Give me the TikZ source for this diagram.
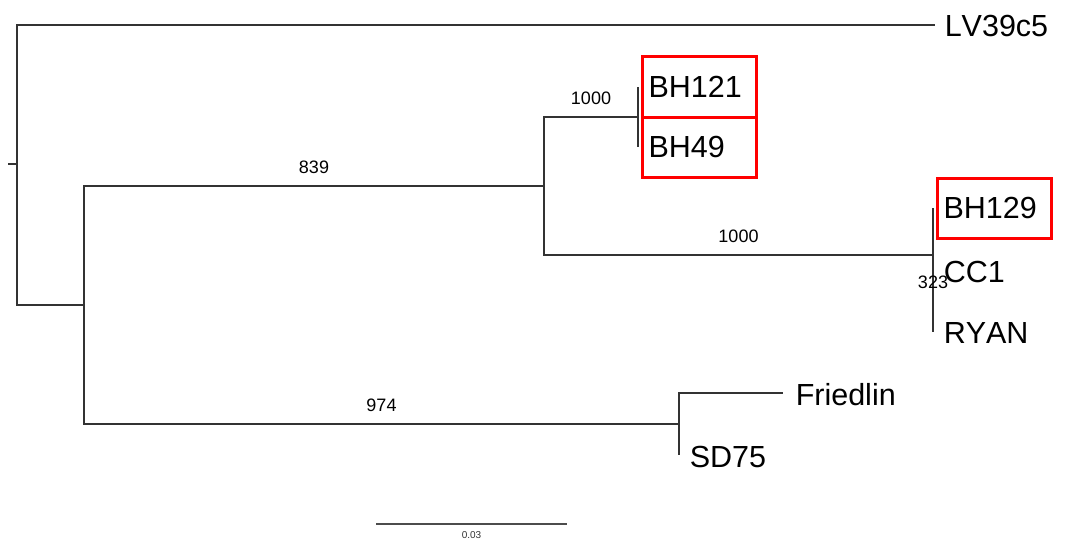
\documentclass[tikz,border=0pt]{standalone}
\usepackage{fontspec}
\setmainfont[Kerning=Off]{Liberation Sans}
\usetikzlibrary{positioning}
\tikzset{
  tree/.style={x=1pt,y=-1pt,line width=1.5pt,draw=black!80},
  tip/.style={font=\fontsize{30.5}{36}\selectfont,inner sep=0pt,yshift=-1.5pt},
  hl/.style={tip,draw=red,line width=3pt,text width=102pt,inner xsep=6pt,
    minimum height=60pt,align=left,yshift=1.5pt},
  boot/.style={font=\fontsize{18}{22}\selectfont,inner sep=0pt,pos=.75,above=12pt},
}

\begin{document}
\begin{tikzpicture}[tree]
  \useasboundingbox (0,0) rectangle (1069,543);
  % internal nodes
  \coordinate (stub) at (8,164);
  \coordinate (n0) at (17,164);
  \coordinate (n1) at (84,305);
  \coordinate (n2) at (544,186);
  \coordinate (n3) at (638,117);
  \coordinate (n4) at (933,255);
  \coordinate (n5) at (933,301);
  \coordinate (n6) at (679,424);
  % tips
  \coordinate (t-lv) at (935,25);
  \coordinate (t-bh121) at (638,87);
  \coordinate (t-bh49) at (638,147);
  \coordinate (t-bh129) at (933,208);
  \coordinate (t-cc1) at (933,270);
  \coordinate (t-ryan) at (933,332);
  \coordinate (t-fr) at (783,393);
  \coordinate (t-sd) at (679,455);

  \node[tip,right=9pt of t-lv] (lv) {LV39c5};
  \node[hl,right=3pt of t-bh121] (bh121) {BH121};
  \node[hl,right=3pt of t-bh49] (bh49) {BH49};
  \node[hl,right=3pt of t-bh129] (bh129) {BH129};
  \node[tip,right=10pt of t-cc1] (cc1) {CC1};
  \node[tip,right=10pt of t-ryan] (ryan) {RYAN};
  \node[tip,right=12pt of t-fr] (fr) {Friedlin};
  \node[tip,right=10pt of t-sd] (sd) {SD75};

  \draw (stub) -- (n0);
  \draw (n0) |- (t-lv);
  \draw (n0) |- (n1);
  \draw (n1) |- (n2) node[boot] {839};
  \draw (n1) |- (n6) node[boot] {974};
  \draw (n2) |- (n3) node[boot] {1000};
  \draw (n2) |- (n4) node[boot] {1000};
  \draw (n3) -- (t-bh121) (n3) -- (t-bh49);
  \draw (n4) -- (t-bh129) (n4) -- (n5);
  \draw (n5) -- (t-cc1) (n5) -- (t-ryan);
  \path (n5) -- (n5) node[boot,pos=.5] (b323) {323};
  \draw (n6) |- (t-fr);
  \draw (n6) -- (t-sd);

  % scale bar
  \coordinate (sb-l) at (376,524);
  \coordinate (sb-r) at (567,524);
  \draw[black!70] (sb-l) -- (sb-r)
    node[midway,below=7pt,inner sep=0pt,font=\fontsize{10}{12}\selectfont,text=black!80] (sb) {0.03};
\end{tikzpicture}
\end{document}
